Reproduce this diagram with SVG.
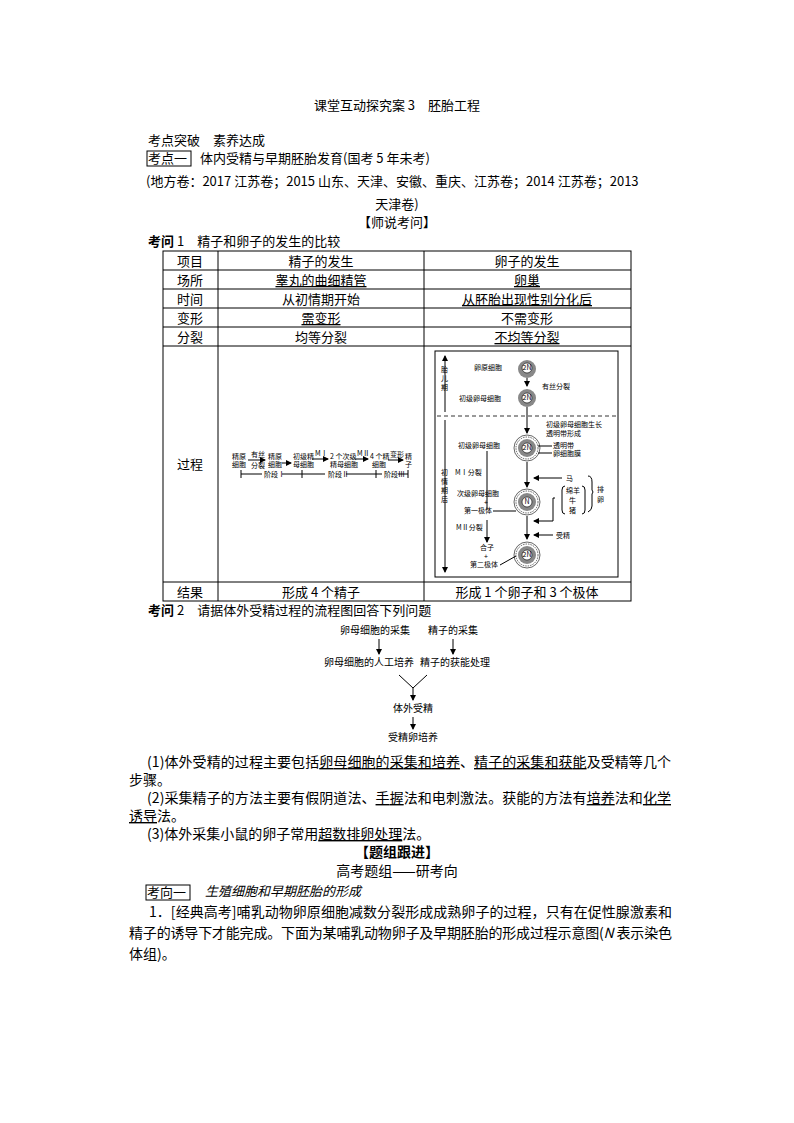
<svg xmlns="http://www.w3.org/2000/svg" width="794" height="1123" viewBox="0 0 794 1123">
<defs>
<style>
.t{font-family:"Noto Sans CJK SC","Noto Sans",sans-serif;font-size:13px;fill:#000}
.p{font-family:"Noto Sans CJK SC","Noto Sans",sans-serif;font-size:14px;fill:#000}
.s{font-family:"Noto Sans CJK SC",sans-serif;font-size:7px;fill:#000}
.m{font-family:"Noto Sans CJK SC",sans-serif;font-size:10px;fill:#000}
.ln{stroke:#000;stroke-width:1;fill:none}
.u{text-decoration:underline}
</style>
<marker id="a" markerWidth="6" markerHeight="6" refX="5" refY="3" orient="auto"><path d="M0,0L6,3L0,6z" fill="#000"/></marker>
</defs>
<rect width="794" height="1123" fill="#fff"/>
<text class="t" x="397" y="110" text-anchor="middle">课堂互动探究案 3　胚胎工程</text>
<text class="t" x="148" y="145">考点突破　素养达成</text>
<rect x="147" y="151" width="44" height="15" class="ln"/>
<text class="t" x="148" y="163">考点一　体内受精与早期胚胎发育(国考 5 年未考)</text>
<text class="t" x="146" y="186">(地方卷：2017 江苏卷；2015 山东、天津、安徽、重庆、江苏卷；2014 江苏卷；2013</text>
<text class="t" x="397" y="209" text-anchor="middle">天津卷)</text>
<text class="t" x="397" y="227" text-anchor="middle">【师说考问】</text>
<text class="t" x="148" y="246"><tspan font-weight="bold">考问</tspan> 1　精子和卵子的发生的比较</text>

<g id="table">
<rect x="163" y="251" width="468" height="350" class="ln"/>
<path class="ln" d="M218,251V601M424,251V601M163,270H631M163,289H631M163,308H631M163,327H631M163,346H631M163,582H631"/>
<text class="t" x="190" y="266" text-anchor="middle">项目</text>
<text class="t" x="321" y="266" text-anchor="middle">精子的发生</text>
<text class="t" x="527" y="266" text-anchor="middle">卵子的发生</text>
<text class="t" x="190" y="285" text-anchor="middle">场所</text>
<text class="t u" x="321" y="285" text-anchor="middle">睾丸的曲细精管</text>
<text class="t u" x="527" y="285" text-anchor="middle">卵巢</text>
<text class="t" x="190" y="304" text-anchor="middle">时间</text>
<text class="t" x="321" y="304" text-anchor="middle">从初情期开始</text>
<text class="t u" x="527" y="304" text-anchor="middle">从胚胎出现性别分化后</text>
<text class="t" x="190" y="323" text-anchor="middle">变形</text>
<text class="t u" x="321" y="323" text-anchor="middle">需变形</text>
<text class="t" x="527" y="323" text-anchor="middle">不需变形</text>
<text class="t" x="190" y="342" text-anchor="middle">分裂</text>
<text class="t" x="321" y="342" text-anchor="middle">均等分裂</text>
<text class="t u" x="527" y="342" text-anchor="middle">不均等分裂</text>
<text class="t" x="190" y="469" text-anchor="middle">过程</text>
<text class="t" x="190" y="597" text-anchor="middle">结果</text>
<text class="t" x="321" y="597" text-anchor="middle">形成 4 个精子</text>
<text class="t" x="527" y="597" text-anchor="middle">形成 1 个卵子和 3 个极体</text>
</g>

<g id="sperm">
<text class="s" x="232" y="459" font-size="6">精原</text><text class="s" x="232" y="467" font-size="6">细胞</text>
<text class="s" x="251" y="457" font-size="6">有丝</text><path class="ln" d="M248,460H265" marker-end="url(#a)" stroke-width="0.6"/><text class="s" x="251" y="468" font-size="6">分裂</text>
<text class="s" x="268" y="459" font-size="6">精原</text><text class="s" x="268" y="467" font-size="6">细胞</text>
<path class="ln" d="M282,463H291" marker-end="url(#a)" stroke-width="0.6"/>
<text class="s" x="293" y="459" font-size="6">初级精</text><text class="s" x="293" y="467" font-size="6">母细胞</text>
<text class="s" x="315" y="456" font-size="6">MⅠ</text><path class="ln" d="M312,459H328" marker-end="url(#a)" stroke-width="0.6"/>
<text class="s" x="330" y="459" font-size="6">2 个次级</text><text class="s" x="330" y="467" font-size="6">精母细胞</text>
<text class="s" x="357" y="456" font-size="6">MⅡ</text><path class="ln" d="M355,459H368" marker-end="url(#a)" stroke-width="0.6"/>
<text class="s" x="370" y="459" font-size="6">4 个精</text><text class="s" x="372" y="467" font-size="6">细胞</text>
<text class="s" x="390" y="457" font-size="6">变形</text><path class="ln" d="M388,460H403" marker-end="url(#a)" stroke-width="0.6"/>
<text class="s" x="405" y="459" font-size="6">精</text><text class="s" x="405" y="467" font-size="6">子</text>
<path class="ln" stroke-width="0.6" d="M241,470V478M302,470V478M376,470V478M408,470V478M241,474H262M282,474H302M302,474H325M346,474H376M376,474H382M398,474H408"/>
<text class="s" x="264" y="477" font-size="6">阶段Ⅰ</text>
<text class="s" x="328" y="477" font-size="6">阶段Ⅱ</text>
<text class="s" x="384" y="477" font-size="6">阶段Ⅲ</text>
</g>

<g id="egg">
<rect x="435" y="351" width="183" height="226" class="ln" stroke="#555"/>
<path d="M437,416H616" stroke="#000" stroke-dasharray="4,3" stroke-width="0.8"/>
<path class="ln" stroke-width="0.7" d="M445,412V356" marker-end="url(#a)"/>
<path class="ln" stroke-width="0.7" d="M445,420V572" marker-end="url(#a)"/>
<text class="s" x="441" y="372">胎</text><text class="s" x="441" y="381">儿</text><text class="s" x="441" y="390">期</text>
<text class="s" x="441" y="475">初</text><text class="s" x="441" y="484">情</text><text class="s" x="441" y="493">期</text><text class="s" x="441" y="502">后</text>
<circle cx="527" cy="369" r="9" fill="#888"/><circle cx="527" cy="368" r="5" fill="#fff" stroke="#000" stroke-width="0.6"/><text class="s" x="527" y="370" text-anchor="middle" font-size="5">2N</text>
<text class="s" x="474" y="370">卵原细胞</text>
<path class="ln" stroke-width="0.6" d="M527,378V386" marker-end="url(#a)"/>
<text class="s" x="542" y="389">有丝分裂</text>
<circle cx="527" cy="398" r="9" fill="#888"/><circle cx="527" cy="398" r="5" fill="#fff" stroke="#000" stroke-width="0.6"/><text class="s" x="527" y="400" text-anchor="middle" font-size="5">2N</text>
<text class="s" x="459" y="401">初级卵母细胞</text>
<path class="ln" stroke-width="0.6" d="M527,407V433" marker-end="url(#a)"/>
<text class="s" x="546" y="427">初级卵母细胞生长</text>
<text class="s" x="546" y="436">透明带形成</text>
<circle cx="527" cy="448" r="13" fill="none" stroke="#000" stroke-width="0.6"/>
<circle cx="527" cy="448" r="11" fill="none" stroke="#000" stroke-width="0.6" stroke-dasharray="1.5,1"/>
<circle cx="527" cy="448" r="9" fill="#888"/><circle cx="527" cy="448" r="5" fill="#fff" stroke="#000" stroke-width="0.6"/><text class="s" x="527" y="450" text-anchor="middle" font-size="5">2N</text>
<path class="ln" stroke-width="0.6" d="M538,446H552M538,453H552"/>
<text class="s" x="553" y="448">透明带</text><text class="s" x="553" y="456">卵细胞膜</text>
<text class="s" x="458" y="448">初级卵母细胞</text>
<path class="ln" stroke-width="0.6" d="M487,451V510"/>
<text class="s" x="455" y="475">MⅠ分裂</text>
<path class="ln" stroke-width="0.6" d="M527,462V487" marker-end="url(#a)"/>
<path class="ln" stroke-width="0.6" d="M562,478H534" marker-end="url(#a)"/>
<text class="s" x="566" y="481">马</text>
<text class="s" x="566" y="493">绵羊</text><text class="s" x="569" y="503">牛</text><text class="s" x="569" y="513">猪</text>
<path class="ln" stroke-width="0.6" d="M565,486Q562,486 562,490V510Q562,514 565,514M582,486Q585,486 585,490V510Q585,514 582,514M588,476Q592,476 592,482V490Q594,492 592,494V506Q592,510 588,512"/>
<text class="s" x="597" y="492">排</text><text class="s" x="597" y="502">卵</text>
<circle cx="527" cy="502" r="13" fill="none" stroke="#000" stroke-width="0.6"/>
<circle cx="527" cy="502" r="11" fill="none" stroke="#000" stroke-width="0.6" stroke-dasharray="1.5,1"/>
<circle cx="527" cy="502" r="9" fill="#888"/><circle cx="527" cy="502" r="5" fill="#fff" stroke="#000" stroke-width="0.6"/><text class="s" x="527" y="504" text-anchor="middle" font-size="5">N</text>
<text class="s" x="457" y="496">次级卵母细胞</text>
<text class="s" x="484" y="505">+</text>
<text class="s" x="464" y="513">第一极体</text>
<path class="ln" stroke-width="0.6" d="M493,511H516"/>
<path class="ln" stroke-width="0.6" d="M555,498H553V521H534" marker-end="url(#a)"/>
<path class="ln" stroke-width="0.6" d="M527,516V539" marker-end="url(#a)"/>
<text class="s" x="456" y="530">MⅡ分裂</text>
<path class="ln" stroke-width="0.6" d="M487,520V542" marker-end="url(#a)"/>
<path class="ln" stroke-width="0.6" d="M553,535H534" marker-end="url(#a)"/>
<text class="s" x="556" y="538">受精</text>
<circle cx="527" cy="555" r="13" fill="none" stroke="#000" stroke-width="0.6"/>
<circle cx="527" cy="555" r="11" fill="none" stroke="#000" stroke-width="0.6" stroke-dasharray="1.5,1"/>
<circle cx="527" cy="555" r="9" fill="#888"/><circle cx="527" cy="555" r="5" fill="#fff" stroke="#000" stroke-width="0.6"/><text class="s" x="527" y="557" text-anchor="middle" font-size="5">2N</text>
<text class="s" x="480" y="550">合子</text>
<text class="s" x="484" y="559">+</text>
<text class="s" x="470" y="567">第二极体</text>
<path class="ln" stroke-width="0.6" d="M500,565L516,556"/>
</g>

<text class="t" x="148" y="615"><tspan font-weight="bold">考问</tspan> 2　请据体外受精过程的流程图回答下列问题</text>

<g id="flow">
<text class="m" x="375" y="634" text-anchor="middle">卵母细胞的采集</text>
<text class="m" x="453" y="634" text-anchor="middle">精子的采集</text>
<text class="m" x="369" y="666" text-anchor="middle">卵母细胞的人工培养</text>
<text class="m" x="455" y="666" text-anchor="middle">精子的获能处理</text>
<text class="m" x="413" y="712" text-anchor="middle">体外受精</text>
<text class="m" x="413" y="741" text-anchor="middle">受精卵培养</text>
</g>
<g id="connectors">
<path class="ln" stroke-width="0.8" d="M379,639V654" marker-end="url(#a)"/>
<path class="ln" stroke-width="0.8" d="M453,639V654" marker-end="url(#a)"/>
<path class="ln" stroke-width="0.8" d="M399,675L413,688L427,675M413,688V700" marker-end="url(#a)"/>
<path class="ln" stroke-width="0.8" d="M413,717V729" marker-end="url(#a)"/>
</g>

<text class="p" x="147" y="767" textLength="524" lengthAdjust="spacing">(1)体外受精的过程主要包括<tspan class="u">卵母细胞的采集和培养</tspan>、<tspan class="u">精子的采集和获能</tspan>及受精等几个</text>
<text class="p" x="129" y="785">步骤。</text>
<text class="p" x="147" y="803" textLength="524" lengthAdjust="spacing">(2)采集精子的方法主要有假阴道法、<tspan class="u">手握</tspan>法和电刺激法。获能的方法有<tspan class="u">培养</tspan>法和<tspan class="u">化学</tspan></text>
<text class="p" x="129" y="821"><tspan class="u">诱导</tspan>法。</text>
<text class="p" x="147" y="839">(3)体外采集小鼠的卵子常用<tspan class="u">超数排卵处理</tspan>法。</text>
<text class="p" x="397" y="857" text-anchor="middle" font-weight="bold">【题组跟进】</text>
<text class="p" x="397" y="876" text-anchor="middle">高考题组——研考向</text>
<rect x="146" y="885" width="44" height="15" class="ln"/>
<text class="t" x="147" y="897">考向一</text>
<text class="t" x="205" y="896" font-size="10" font-style="italic">生殖细胞和早期胚胎的形成</text>
<text class="p" x="149" y="917" textLength="523" lengthAdjust="spacing">1．[经典高考]哺乳动物卵原细胞减数分裂形成成熟卵子的过程，只有在促性腺激素和</text>
<text class="p" x="129" y="938" textLength="543" lengthAdjust="spacing">精子的诱导下才能完成。下面为某哺乳动物卵子及早期胚胎的形成过程示意图(<tspan font-style="italic">N</tspan> 表示染色</text>
<text class="p" x="129" y="959">体组)。</text>
</svg>
